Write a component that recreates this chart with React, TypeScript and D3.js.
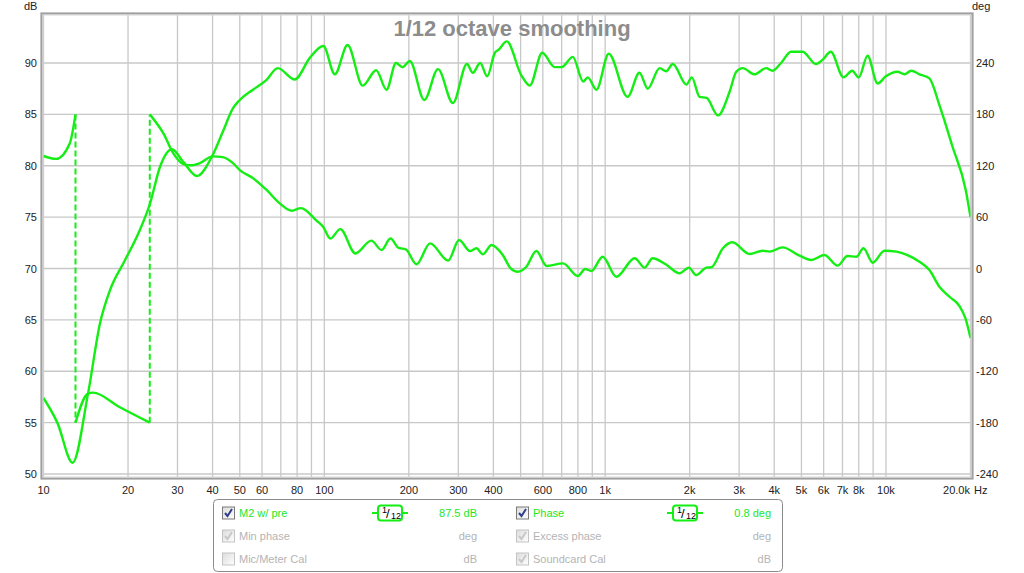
import { curveMonotoneX, line, scaleLinear, scaleLog } from 'd3';

// magnitude (dB)
const splFreq = [
  10, 11.2, 12.7, 14.4, 15.9, 17.25, 19.5, 22, 24, 26, 28.7, 31.4, 35.2, 39.8, 43.5, 47.3, 50, 55.7, 62,
  68.3, 78.5, 88.8, 99.2, 109, 121, 137, 153, 166.5, 180, 190, 201.6, 227, 254, 287, 322, 338, 359, 380,
  405, 418, 446, 503, 539, 597, 661, 700, 767, 835, 867, 931, 1030, 1202, 1325, 1418, 1563, 1650, 1742,
  1946, 2035, 2169, 2298, 2522, 2774, 2930, 3090, 3404, 3740, 3950, 4230, 4590, 5050, 5630, 5940, 6360,
  7060, 7580, 8000, 8600, 9340, 9990, 10990, 11640, 12300, 13160, 14280, 15500, 17260, 19250, 20000
];
const splDb = [
  57.4, 55.0, 51.1, 57.8, 64.7, 67.9, 70.8, 73.7, 76.4, 79.9, 81.6, 80.4, 79.0, 80.9, 83.3, 85.6, 86.4,
  87.4, 88.3, 89.5, 88.4, 90.5, 91.65, 88.9, 91.75, 87.8, 89.3, 87.4, 90.0, 89.6, 90.2, 86.4, 89.4, 86.1,
  89.9, 89.05, 90.0, 88.7, 91.0, 91.3, 92.1, 88.8, 87.8, 91.0, 89.6, 89.6, 90.6, 88.2, 88.6, 87.4, 90.9,
  86.7, 89.05, 87.5, 89.5, 89.2, 89.9, 87.9, 88.6, 86.7, 86.6, 84.9, 87.2, 89.15, 89.5, 88.9, 89.5, 89.25,
  90.0, 91.1, 91.1, 89.9, 90.3, 91.1, 88.6, 89.25, 88.6, 90.7, 88.0, 88.7, 89.15, 88.9, 89.25, 88.9, 88.5,
  85.9, 81.85, 77.6, 75.0
];

// phase (deg), wrapped at +/-180
const phaseFreq = [
  10, 11.1, 12.4, 13.0, 13.0, 14.4, 15.0, 18.7, 23.9, 23.9, 26.7, 29, 31.5, 33.5, 36, 40, 43.5, 47.3, 50,
  56, 62.3, 69.4, 76.6, 82.5, 93.8, 99, 105, 114, 129, 147, 160, 172, 184, 195, 213, 238, 276, 302, 330,
  348, 367, 394, 432, 461, 489, 524, 569, 619, 708, 800, 849, 893, 980, 1096, 1274, 1382, 1476, 1642,
  1842, 1988, 2107, 2297, 2388, 2626, 2836, 3268, 3635, 3850, 4283, 4922, 5419, 6041, 6721, 7296, 7852,
  8315, 8974, 9879, 10900, 11930, 13160, 14280, 15500, 16830, 18270, 19180, 20000
];
const phaseDeg = [
  131.4, 128, 146, 180, -180, -146, -145, -162, -180, 180, 158, 134.5, 122, 120.5, 123, 131, 130, 123,
  115, 105, 91.7, 76, 67.5, 70.5, 56, 48.8, 35, 46, 17.5, 32.5, 21.6, 35, 24, 22.4, 5, 29.4, 9.3, 33.3,
  20.4, 23.6, 16.6, 27.4, 15.7, 0.2, -3.8, 2, 20.4, 3, 6, -8.8, -0.6, -3, 13.8, -9.6, 12, 1, 12, 4.9,
  -5.6, 1, -7.6, 1, 1.4, 23.6, 30.6, 17, 20.8, 19.7, 24.7, 15, 10, 15.7, 3.3, 14.6, 13.8, 23.6, 6.8,
  20.8, 19.7, 15.7, 7.9, -1.8, -21.3, -33, -43.8, -58, -81
];

const freqGrid = [
  10, 20, 30, 40, 50, 60, 70, 80, 90, 100, 200, 300, 400, 500, 600, 700, 800, 900, 1000, 2000, 3000,
  4000, 5000, 6000, 7000, 8000, 9000, 10000, 20000
];
const freqTicks = [10, 20, 30, 40, 50, 60, 80, 100, 200, 300, 400, 600, 800, 1000, 2000, 3000, 4000, 5000, 6000, 7000, 8000, 10000];
const freqTickLabels = ['10', '20', '30', '40', '50', '60', '80', '100', '200', '300', '400', '600', '800', '1k', '2k', '3k', '4k', '5k', '6k', '7k', '8k', '10k'];
const dbTicks = [50, 55, 60, 65, 70, 75, 80, 85, 90];
const degTicks = [-240, -180, -120, -60, 0, 60, 120, 180, 240];

const legendLeft = [
  { name: 'M2 w/ pre', value: '87.5 dB', checked: true, active: true, smooth: true },
  { name: 'Min phase', value: 'deg', checked: true, active: false, smooth: false },
  { name: 'Mic/Meter Cal', value: 'dB', checked: false, active: false, smooth: false }
];
const legendRight = [
  { name: 'Phase', value: '0.8 deg', checked: true, active: true, smooth: true },
  { name: 'Excess phase', value: 'deg', checked: true, active: false, smooth: false },
  { name: 'Soundcard Cal', value: 'dB', checked: true, active: false, smooth: false }
];

const GREEN = '#14ee14';
const TEXT_GREEN = '#1ee61e';
const GREY = '#b4b4b4';
const FONT = '"Liberation Sans", Arial, sans-serif';

interface Pt {
  f: number;
  v: number;
}

function Checkbox({ x, y, checked, active }: { x: number; y: number; checked: boolean; active: boolean }): JSX.Element {
  return (
    <g transform={`translate(${x},${y})`}>
      <rect x={0.5} y={0.5} width={12} height={12} fill="url(#cbfill)" stroke={active ? '#7a7a7a' : '#c4c4c4'} />
      {checked && (
        <path
          d="M3 6.5 L5.5 9.5 L10 2.5"
          fill="none"
          stroke={active ? '#2f3f8f' : '#c8c8c8'}
          strokeWidth={2}
        />
      )}
    </g>
  );
}

function SmoothIcon({ cx, cy }: { cx: number; cy: number }): JSX.Element {
  return (
    <g>
      <line x1={cx - 18} x2={cx - 12} y1={cy} y2={cy} stroke={GREEN} strokeWidth={2} />
      <line x1={cx + 12} x2={cx + 18} y1={cy} y2={cy} stroke={GREEN} strokeWidth={2} />
      <rect x={cx - 12} y={cy - 7.5} width={24} height={15} rx={3} fill="white" stroke={GREEN} strokeWidth={2} />
      <text x={cx - 8} y={cy - 0.5} fontSize={9} fontFamily={FONT} fill="#000">1</text>
      <text x={cx - 4} y={cy + 5} fontSize={13} fontFamily={FONT} fill="#000">/</text>
      <text x={cx + 1} y={cy + 5.5} fontSize={9} fontFamily={FONT} fill="#000">12</text>
    </g>
  );
}

function App(): JSX.Element {
  const left = 43.5;
  const right = 970.5;
  const top = 15;
  const bottom = 477;

  const x = scaleLog().domain([10, 20000]).range([left, right]);
  const yDb = scaleLinear().domain([50, 90]).range([474, 63]);
  const yDeg = scaleLinear().domain([-240, 240]).range([474, 63]);

  const splPts: Pt[] = splFreq.map((f, i) => ({ f, v: splDb[i] }));
  const splLine = line<Pt>()
    .x((d) => x(d.f))
    .y((d) => yDb(d.v))
    .curve(curveMonotoneX);

  // split the phase trace where it wraps
  const segments: Pt[][] = [];
  const jumps: [Pt, Pt][] = [];
  let cur: Pt[] = [];
  phaseFreq.forEach((f, i) => {
    const p = { f, v: phaseDeg[i] };
    if (cur.length && Math.abs(p.v - cur[cur.length - 1].v) > 270) {
      jumps.push([cur[cur.length - 1], p]);
      segments.push(cur);
      cur = [];
    }
    cur.push(p);
  });
  segments.push(cur);

  const phaseLine = line<Pt>()
    .x((d) => x(d.f))
    .y((d) => yDeg(d.v))
    .curve(curveMonotoneX);

  const legendRow = (
    item: { name: string; value: string; checked: boolean; active: boolean; smooth: boolean },
    i: number,
    cbX: number,
    iconX: number,
    valX: number
  ): JSX.Element => {
    const cy = 513 + i * 23;
    const col = item.active ? TEXT_GREEN : GREY;
    return (
      <g key={item.name}>
        <Checkbox x={cbX} y={cy - 6.5} checked={item.checked} active={item.active} />
        <text x={cbX + 17} y={cy + 4} fontSize={11} fontFamily={FONT} fill={col}>
          {item.name}
        </text>
        {item.smooth && <SmoothIcon cx={iconX} cy={cy} />}
        <text x={valX} y={cy + 4} fontSize={11} fontFamily={FONT} fill={col} textAnchor="end">
          {item.value}
        </text>
      </g>
    );
  };

  return (
    <svg width={1024} height={573} style={{ position: 'absolute', left: 0, top: 0, background: 'white' }}>
      <defs>
        <clipPath id="plotclip">
          <rect x={left} y={top} width={right - left} height={bottom - top} />
        </clipPath>
        <linearGradient id="cbfill" x1="0" y1="0" x2="1" y2="1">
          <stop offset="0" stopColor="#dcdcdc" />
          <stop offset="1" stopColor="#ffffff" />
        </linearGradient>
      </defs>

      <rect x={0} y={0} width={1024} height={573} fill="white" />

      {/* grid */}
      <g stroke="#c8c8c8" strokeWidth={1.3}>
        {freqGrid.map((f) => (
          <line key={`v${f}`} x1={x(f)} x2={x(f)} y1={top} y2={bottom} />
        ))}
        {dbTicks.map((d) => (
          <line key={`h${d}`} x1={left} x2={right} y1={yDb(d)} y2={yDb(d)} />
        ))}
      </g>

      {/* frame */}
      <rect x={41.5} y={13.5} width={931} height={465} fill="none" stroke="#a0a0a0" strokeWidth={2.2} />
      <rect x={43} y={15} width={928} height={462} fill="none" stroke="#d6d6d6" strokeWidth={1} />

      {/* traces */}
      <g clipPath="url(#plotclip)" fill="none" stroke={GREEN} strokeWidth={2.4} strokeLinejoin="round">
        <path d={splLine(splPts) ?? ''} />
        {segments.map((s, i) => (
          <path key={`seg${i}`} d={phaseLine(s) ?? ''} />
        ))}
        {jumps.map(([a, b], i) => (
          <line
            key={`jump${i}`}
            x1={x(a.f)}
            x2={x(b.f)}
            y1={yDeg(a.v)}
            y2={yDeg(b.v)}
            strokeDasharray="6,3"
            strokeWidth={2}
          />
        ))}
      </g>

      {/* axes labels */}
      <g fontFamily={FONT} fontSize={11} fill="#222">
        {dbTicks.map((d) => (
          <text key={`l${d}`} x={37} y={yDb(d) + 4} textAnchor="end">
            {d}
          </text>
        ))}
        {degTicks.map((d) => (
          <text key={`r${d}`} x={976} y={yDeg(d) + 4}>
            {d}
          </text>
        ))}
        {freqTicks.map((f, i) => (
          <text key={`x${f}`} x={x(f)} y={494} textAnchor="middle">
            {freqTickLabels[i]}
          </text>
        ))}
        <text x={970} y={494} textAnchor="end">
          20.0k
        </text>
        <text x={974} y={494}>
          Hz
        </text>
        <text x={24} y={10}>
          dB
        </text>
        <text x={972} y={10}>
          deg
        </text>
      </g>

      <text x={512} y={36} textAnchor="middle" fontFamily={FONT} fontSize={22} fontWeight="bold" fill="#8c8c8c">
        1/12 octave smoothing
      </text>

      {/* legend */}
      <rect x={213.5} y={499.5} width={569} height={72} rx={4} fill="white" stroke="#8a8a8a" />
      {legendLeft.map((it, i) => legendRow(it, i, 222, 390, 477))}
      {legendRight.map((it, i) => legendRow(it, i, 516, 685, 771))}
    </svg>
  );
}

export default App;
